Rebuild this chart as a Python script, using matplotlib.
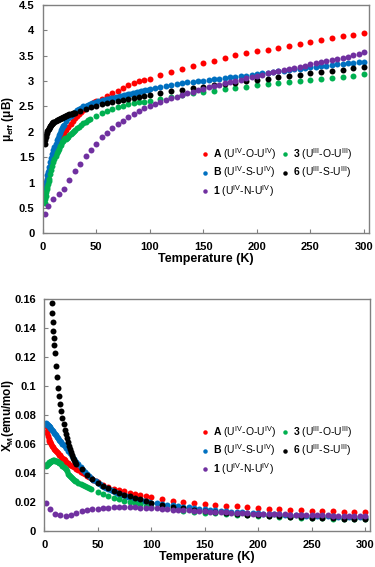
import matplotlib
matplotlib.use("Agg")
import matplotlib.pyplot as plt
import matplotlib.ticker as ticker

plt.rcParams['font.family'] = ['Liberation Sans', 'DejaVu Sans']
plt.rcParams['mathtext.fontset'] = 'custom'
plt.rcParams['mathtext.rm'] = 'Liberation Sans'
plt.rcParams['mathtext.bf'] = 'Liberation Sans:bold'
plt.rcParams['mathtext.it'] = 'Liberation Sans:italic'

# ---- data ----
# A (U(IV)-O-U(IV))
T_A = [2, 2.5, 3, 3.5, 4, 4.5, 5, 5.5, 6, 7, 8, 9, 10, 11, 12, 13, 14, 15, 16, 17, 18, 19, 20,
       22, 24, 26, 28, 30, 32, 34, 36, 38, 40, 42, 44, 46, 48, 50,
       55, 60, 65, 70, 75, 80, 85, 90, 95, 100,
       110, 120, 130, 140, 150, 160, 170, 180, 190, 200, 210, 220, 230, 240, 250, 260, 270, 280, 290, 300]
mu_A = [0.76, 0.83, 0.90, 0.96, 1.01, 1.06, 1.11, 1.16, 1.20, 1.28, 1.36, 1.43, 1.50, 1.56, 1.62, 1.67, 1.72, 1.77, 1.81, 1.85, 1.89, 1.93, 1.96,
        2.03, 2.10, 2.16, 2.22, 2.27, 2.32, 2.36, 2.40, 2.44, 2.47, 2.50, 2.53, 2.55, 2.58, 2.60,
        2.65, 2.70, 2.76, 2.81, 2.87, 2.92, 2.96, 3.00, 3.03, 3.05,
        3.12, 3.18, 3.23, 3.29, 3.35, 3.40, 3.45, 3.51, 3.55, 3.59, 3.62, 3.65, 3.69, 3.73, 3.77, 3.81, 3.84, 3.88, 3.91, 3.95]
chi_A = [0.0722, 0.0689, 0.0675, 0.0658, 0.0638, 0.0624, 0.0616, 0.0612, 0.0600, 0.0585, 0.0578, 0.0568, 0.0563, 0.0553, 0.0547, 0.0536, 0.0528, 0.0522, 0.0512, 0.0503, 0.0496, 0.0490, 0.0480,
         0.0468, 0.0459, 0.0449, 0.0440, 0.0429, 0.0420, 0.0410, 0.0400, 0.0392, 0.0381, 0.0372, 0.0364, 0.0353, 0.0347, 0.0338,
         0.0319, 0.0304, 0.0293, 0.0282, 0.0275, 0.0266, 0.0258, 0.0250, 0.0242, 0.0233,
         0.0221, 0.0211, 0.0201, 0.0193, 0.0187, 0.0181, 0.0175, 0.0171, 0.0166, 0.0161, 0.0156, 0.0151, 0.0148, 0.0145, 0.0142, 0.0140, 0.0137, 0.0134, 0.0132, 0.0130]

# B (U(IV)-S-U(IV))
T_B = [2, 2.5, 3, 3.5, 4, 4.5, 5, 5.5, 6, 7, 8, 9, 10, 11, 12, 13, 14, 15, 16, 17, 18, 19, 20,
       22, 24, 26, 28, 30, 32, 34, 36, 38, 40, 42, 44, 46, 48, 50,
       52, 54, 56, 58, 60, 62, 64, 66, 68, 70, 72, 74, 76, 78, 80, 82, 84, 86, 88, 90, 92, 94, 96, 98, 100,
       105, 110, 115, 120, 125, 130, 135, 140, 145, 150, 155, 160, 165, 170, 175, 180, 185, 190, 195, 200,
       205, 210, 215, 220, 225, 230, 235, 240, 245, 250, 255, 260, 265, 270, 275, 280, 285, 290, 295, 300]
mu_B = [0.77, 0.86, 0.94, 1.01, 1.08, 1.14, 1.20, 1.25, 1.30, 1.40, 1.48, 1.56, 1.64, 1.70, 1.77, 1.83, 1.88, 1.93, 1.98, 2.03, 2.07, 2.11, 2.14,
        2.21, 2.27, 2.32, 2.36, 2.40, 2.43, 2.45, 2.47, 2.50, 2.51, 2.53, 2.545, 2.56, 2.57, 2.585,
        2.60, 2.61, 2.62, 2.63, 2.64, 2.65, 2.66, 2.67, 2.68, 2.69, 2.70, 2.71, 2.72, 2.73, 2.74, 2.75, 2.76, 2.77, 2.78, 2.79, 2.80, 2.81, 2.82, 2.83, 2.84,
        2.86, 2.88, 2.90, 2.92, 2.94, 2.96, 2.98, 2.99, 3.00, 3.01, 3.03, 3.04, 3.05, 3.06, 3.08, 3.09, 3.10, 3.11, 3.13, 3.14,
        3.15, 3.16, 3.18, 3.19, 3.20, 3.22, 3.23, 3.24, 3.26, 3.27, 3.28, 3.29, 3.30, 3.32, 3.33, 3.34, 3.35, 3.36, 3.37, 3.38]
chi_B = [0.0745, 0.0740, 0.0735, 0.0730, 0.0726, 0.0722, 0.0717, 0.0712, 0.0707, 0.0698, 0.0688, 0.0679, 0.0669, 0.0660, 0.0650, 0.0641, 0.0631, 0.0622, 0.0612, 0.0603, 0.0593, 0.0584, 0.0574,
         0.0555, 0.0536, 0.0517, 0.0498, 0.0479, 0.0460, 0.0442, 0.0425, 0.0410, 0.0395, 0.0381, 0.0368, 0.0356, 0.0345, 0.0334,
         0.0324, 0.0315, 0.0306, 0.0298, 0.0290, 0.0283, 0.0276, 0.0269, 0.0263, 0.0257, 0.0252, 0.0247, 0.0242, 0.0237, 0.0233, 0.0229, 0.0225, 0.0221, 0.0217, 0.0213, 0.0210, 0.0207, 0.0204, 0.0201, 0.0198,
         0.0195, 0.0188, 0.0183, 0.0178, 0.0173, 0.0168, 0.0164, 0.0160, 0.0155, 0.0151, 0.0148, 0.0144, 0.0141, 0.0138, 0.0136, 0.0133, 0.0130, 0.0127, 0.0126, 0.0123,
         0.0121, 0.0119, 0.0118, 0.0116, 0.0114, 0.0113, 0.0111, 0.0109, 0.0108, 0.0107, 0.0105, 0.0104, 0.0103, 0.0102, 0.0101, 0.0100, 0.0098, 0.0097, 0.0096, 0.0095]

# 3 (U(III)-O-U(III))
T_3 = [2, 2.5, 3, 3.5, 4, 4.5, 5, 5.5, 6, 7, 8, 9, 10, 11, 12, 13, 14, 15, 16, 17, 18, 19, 20,
       21, 22, 23, 24, 25, 26, 27, 28, 29, 30, 32, 34, 36, 38, 40, 42, 44,
       50, 55, 60, 65, 70, 75, 80, 85, 90, 95, 100,
       110, 120, 130, 140, 150, 160, 170, 180, 190, 200, 210, 220, 230, 240, 250, 260, 270, 280, 290, 300]
mu_3 = [0.60, 0.67, 0.74, 0.81, 0.87, 0.92, 0.98, 1.03, 1.08, 1.17, 1.25, 1.33, 1.40, 1.46, 1.52, 1.58, 1.63, 1.67, 1.72, 1.75, 1.79, 1.82, 1.85,
        1.87, 1.86, 1.88, 1.905, 1.93, 1.95, 1.97, 1.99, 2.01, 2.03, 2.07, 2.105, 2.14, 2.17, 2.20, 2.23, 2.26,
        2.32, 2.37, 2.415, 2.45, 2.48, 2.51, 2.54, 2.56, 2.58, 2.59, 2.61,
        2.65, 2.69, 2.72, 2.76, 2.78, 2.81, 2.84, 2.87, 2.89, 2.92, 2.94, 2.96, 2.98, 3.00, 3.03, 3.05, 3.07, 3.09, 3.11, 3.14]
chi_3 = [0.0448, 0.0455, 0.0460, 0.0465, 0.0470, 0.0474, 0.0478, 0.0480, 0.0483, 0.0486, 0.0488, 0.0488, 0.0487, 0.0485, 0.0482, 0.0478, 0.0473, 0.0467, 0.0460, 0.0452, 0.0444, 0.0436, 0.0428,
         0.0418, 0.0395, 0.0385, 0.0378, 0.0372, 0.0366, 0.0360, 0.0354, 0.0349, 0.0344, 0.0335, 0.0326, 0.0318, 0.0310, 0.0303, 0.0296, 0.0290,
         0.0270, 0.0256, 0.0243, 0.0231, 0.0220, 0.0210, 0.0201, 0.0193, 0.0185, 0.0177, 0.0170,
         0.0160, 0.0151, 0.0142, 0.0136, 0.0129, 0.0123, 0.0119, 0.0114, 0.0110, 0.0107, 0.0103, 0.0100, 0.0097, 0.0094, 0.0092, 0.0089, 0.0087, 0.0085, 0.0083, 0.0082]

# 6 (U(III)-S-U(III))
T_6 = [2, 2.5, 3, 3.5, 4, 4.5, 5, 5.5, 6, 6.5, 7, 7.5, 8, 8.5, 9, 9.5, 10,
       11, 12, 13, 14, 15, 16, 17, 18, 19, 20, 21, 22, 23, 24, 25, 26, 27, 28, 29, 30,
       35, 40, 45, 50, 55, 60, 65, 70, 75, 80, 85, 90, 95, 100,
       110, 120, 130, 140, 150, 160, 170, 180, 190, 200, 210, 220, 230, 240, 250, 260, 270, 280, 290, 300]
mu_6 = [1.77, 1.84, 1.89, 1.94, 1.98, 2.01, 2.04, 2.06, 2.08, 2.10, 2.115, 2.13, 2.14, 2.155, 2.165, 2.175, 2.185,
        2.20, 2.215, 2.23, 2.24, 2.25, 2.26, 2.27, 2.28, 2.29, 2.30, 2.31, 2.32, 2.33, 2.34, 2.35, 2.355, 2.36, 2.37, 2.375, 2.38,
        2.42, 2.45, 2.48, 2.51, 2.54, 2.56, 2.59, 2.61, 2.63, 2.65, 2.67, 2.69, 2.71, 2.73,
        2.76, 2.80, 2.83, 2.86, 2.88, 2.92, 2.95, 2.97, 3.00, 3.03, 3.05, 3.08, 3.10, 3.13, 3.15, 3.17, 3.20, 3.22, 3.25, 3.28]
chi_6 = [0.392, 0.339, 0.298, 0.269, 0.245, 0.224, 0.208, 0.193, 0.180, 0.168, 0.157, 0.150, 0.144, 0.138, 0.133, 0.128, 0.123,
         0.114, 0.106, 0.099, 0.093, 0.0875, 0.0825, 0.078, 0.074, 0.070, 0.067, 0.064, 0.0615, 0.059, 0.0565, 0.0545, 0.0525, 0.0505, 0.049, 0.0475, 0.046,
         0.043, 0.039, 0.036, 0.0335, 0.0315, 0.0295, 0.028, 0.0266, 0.0252, 0.0240, 0.0230, 0.0220, 0.0210, 0.0198,
         0.0180, 0.0167, 0.0157, 0.0148, 0.0140, 0.0132, 0.0126, 0.0120, 0.0115, 0.0110, 0.0106, 0.0102, 0.0099, 0.0096, 0.0093, 0.0091, 0.0089, 0.0087, 0.0086, 0.0085]

# 1 (U(IV)-N-U(IV))
T_1 = [2, 5, 10, 15, 20, 25, 30, 35, 40, 45, 50, 55, 60, 65, 70, 75, 80, 85, 90, 95, 100,
       105, 110, 115, 120, 125, 130, 135, 140, 145, 150, 155, 160, 165, 170, 175, 180, 185, 190, 195, 200,
       205, 210, 215, 220, 225, 230, 235, 240, 245, 250, 255, 260, 265, 270, 275, 280, 285, 290, 295, 300]
mu_1 = [0.39, 0.54, 0.67, 0.78, 0.88, 1.05, 1.22, 1.37, 1.52, 1.64, 1.77, 1.89, 1.98, 2.07, 2.16, 2.22, 2.30, 2.35, 2.41, 2.46, 2.51,
        2.55, 2.59, 2.63, 2.66, 2.69, 2.73, 2.76, 2.79, 2.82, 2.85, 2.88, 2.91, 2.93, 2.96, 2.98, 3.01, 3.03, 3.06, 3.08, 3.11,
        3.13, 3.15, 3.17, 3.20, 3.22, 3.24, 3.26, 3.28, 3.30, 3.33, 3.35, 3.37, 3.39, 3.41, 3.44, 3.46, 3.48, 3.51, 3.54, 3.57]
chi_1 = [0.0198, 0.0152, 0.0118, 0.0110, 0.0107, 0.0115, 0.0127, 0.0137, 0.0145, 0.0151, 0.0156, 0.0160, 0.0163, 0.0165, 0.0166, 0.0166, 0.0165, 0.0164, 0.0163, 0.0161, 0.0159,
         0.0157, 0.0155, 0.0152, 0.0150, 0.0148, 0.0146, 0.0144, 0.0142, 0.0140, 0.0138, 0.0136, 0.0134, 0.0132, 0.0130, 0.0128, 0.0127, 0.0125, 0.0124, 0.0122, 0.0121,
         0.0120, 0.0119, 0.0118, 0.0117, 0.0116, 0.0115, 0.0114, 0.0113, 0.0112, 0.0111, 0.0110, 0.0109, 0.0109, 0.0108, 0.0108, 0.0107, 0.0107, 0.0106, 0.0106, 0.0106]

SERIES = [
    (r"$\mathbf{A}$ (U$^{\mathrm{IV}}$-O-U$^{\mathrm{IV}}$)", "#ff0000", T_A, mu_A, chi_A),
    (r"$\mathbf{B}$ (U$^{\mathrm{IV}}$-S-U$^{\mathrm{IV}}$)", "#0070c0", T_B, mu_B, chi_B),
    (r"$\mathbf{1}$ (U$^{\mathrm{IV}}$-N-U$^{\mathrm{IV}}$)", "#7030a0", T_1, mu_1, chi_1),
    (r"$\mathbf{3}$ (U$^{\mathrm{III}}$-O-U$^{\mathrm{III}}$)", "#00b050", T_3, mu_3, chi_3),
    (r"$\mathbf{6}$ (U$^{\mathrm{III}}$-S-U$^{\mathrm{III}}$)", "#000000", T_6, mu_6, chi_6),
]
DRAW_ORDER = [0, 1, 3, 4, 2]

fig = plt.figure(figsize=(3.75, 5.67), dpi=100)
ax1 = fig.add_axes([0.1138, 0.5885, 0.8702, 0.4027])
ax2 = fig.add_axes([0.1181, 0.0630, 0.8686, 0.4097])


def style(ax, ymax, ystep):
    ax.set_xlim(0, 304.7)
    ax.set_ylim(0, ymax)
    ax.xaxis.set_major_locator(ticker.MultipleLocator(50))
    ax.yaxis.set_major_locator(ticker.MultipleLocator(ystep))
    ax.yaxis.set_major_formatter(ticker.FuncFormatter(lambda v, p: "%g" % round(v, 4)))
    ax.tick_params(direction="in", length=3, width=0.8, color="#808080", labelsize=8)
    ax.tick_params(axis="y", pad=6)
    ax.tick_params(axis="x", pad=6)
    for lab in ax.get_xticklabels() + ax.get_yticklabels():
        lab.set_fontweight("bold")
    for s in ax.spines.values():
        s.set_color("#808080")
        s.set_linewidth(1.0)
    ax.set_xlabel("Temperature (K)", fontsize=9, fontweight="bold", labelpad=1)


for ax, idx, ymax, ystep, anchor in [(ax1, 3, 4.5, 0.5, (0.488, 0.382)),
                                     (ax2, 4, 0.16, 0.02, (0.484, 0.462))]:
    handles = {}
    for i in DRAW_ORDER:
        label, color, T, mu, chi = SERIES[i]
        vals = mu if idx == 3 else chi
        (h,) = ax.plot(T, vals, "o", color=color, ms=4.3, mec="none", label=label)
        handles[i] = h
    style(ax, ymax, ystep)
    ax.legend([handles[i] for i in range(5)], [s[0] for s in SERIES],
              ncol=2, frameon=False, fontsize=7.5, loc="upper left",
              bbox_to_anchor=anchor, handlelength=0.6, handletextpad=0.45,
              columnspacing=0.6, labelspacing=0.25, markerscale=0.75,
              borderaxespad=0, borderpad=0)

ax1.set_ylabel(r"μ$_\mathregular{eff}$ (μB)", fontsize=8.5, fontweight="bold")
ax2.set_ylabel(r"X$_\mathregular{M}$(emu/mol)", fontsize=8.5, fontweight="bold")
ax1.yaxis.set_label_coords(-0.083, 0.5)
ax2.yaxis.set_label_coords(-0.088, 0.5)

fig.savefig("out.png", dpi=100)
